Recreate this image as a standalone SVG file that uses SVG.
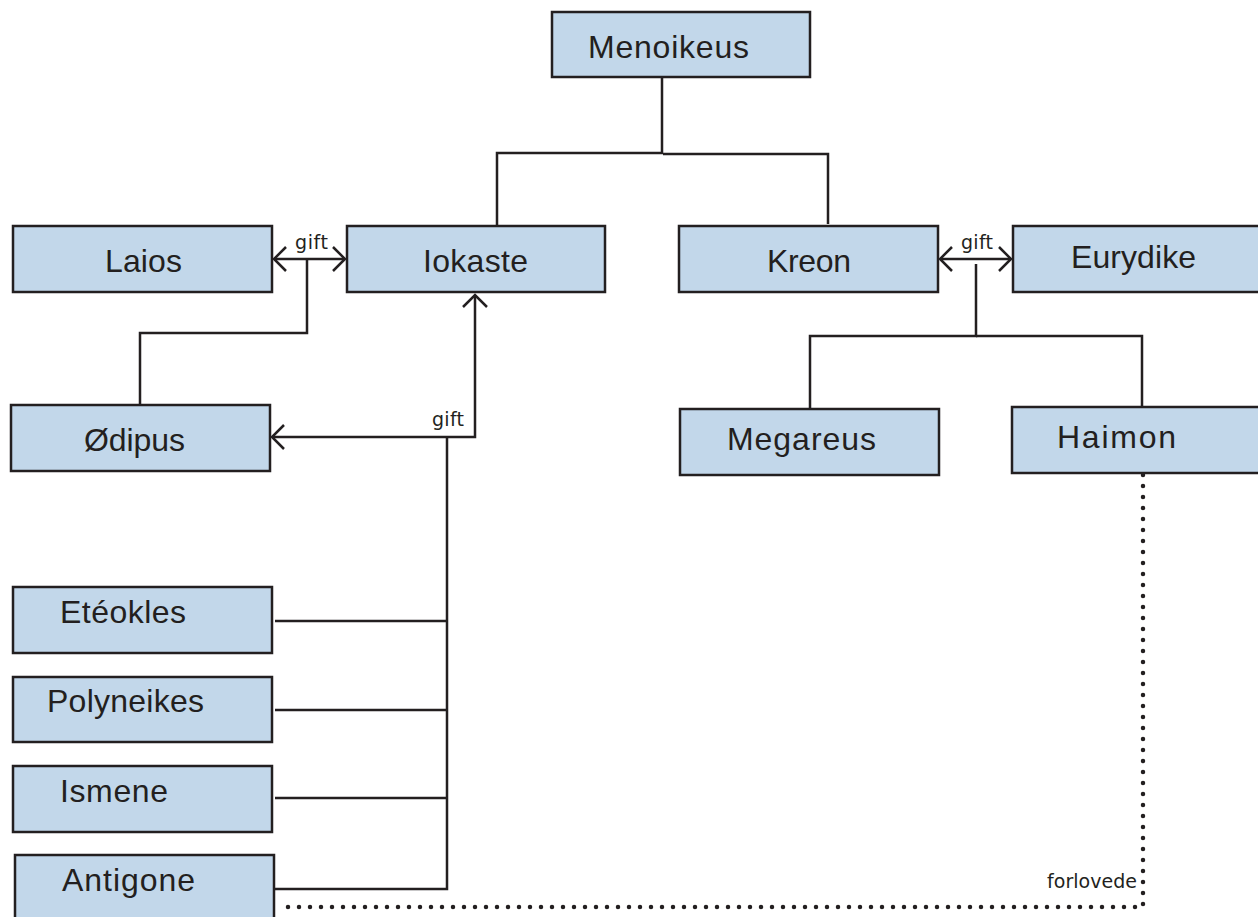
<svg xmlns="http://www.w3.org/2000/svg" width="1258" height="917" viewBox="0 0 1258 917">
<style>
.box{fill:#c2d7ea;stroke:#231f20;stroke-width:2.5}
.t{font-family:"Liberation Sans",Arial,sans-serif;font-size:32px;fill:#231f20}
.s{font-family:"DejaVu Sans","Liberation Sans",sans-serif;font-size:19px;fill:#231f20}
.ln{fill:none;stroke:#231f20;stroke-width:2.5}
.dot{fill:none;stroke:#231f20;stroke-width:4.5;stroke-linecap:round;stroke-dasharray:0 11}
</style>
<defs>
<marker id="ah" markerUnits="userSpaceOnUse" markerWidth="16" markerHeight="28" refX="13" refY="13" orient="auto-start-reverse" viewBox="0 0 16 28">
<path d="M1,1 L13,13 L1,25" fill="none" stroke="#231f20" stroke-width="2.5"/>
</marker>
</defs>
<g id="connectors">
<polyline class="ln" points="662,77 662,153 497,153 497,226"/>
<polyline class="ln" points="663,154 828,154 828,224"/>
<line class="ln" x1="274" y1="259" x2="345" y2="259" marker-start="url(#ah)" marker-end="url(#ah)"/>
<polyline class="ln" points="307,259 307,333 140,333 140,405"/>
<line class="ln" x1="940" y1="259" x2="1011" y2="259" marker-start="url(#ah)" marker-end="url(#ah)"/>
<polyline class="ln" points="976,264 976,336 810,336 810,409"/>
<polyline class="ln" points="976,336 1142,336 1142,407"/>
<polyline class="ln" points="272,437 475,437 475,295" marker-start="url(#ah)" marker-end="url(#ah)"/>
<polyline class="ln" points="447,437 447,889 275,889"/>
<line class="ln" x1="275" y1="621" x2="447" y2="621"/>
<line class="ln" x1="275" y1="710" x2="447" y2="710"/>
<line class="ln" x1="275" y1="798" x2="447" y2="798"/>
<polyline class="dot" points="1143,475 1143,907 278,907"/>
<text class="s" x="295" y="249" textLength="33">gift</text>
<text class="s" x="961" y="249" textLength="32">gift</text>
<text class="s" x="432" y="426" textLength="32">gift</text>
<text class="s" x="1047" y="888" textLength="90">forlovede</text>
</g>
<g id="menoikeus"><rect class="box" x="552" y="12" width="258" height="65"/><text class="t" x="588" y="58" textLength="161">Menoikeus</text></g>
<g id="laios"><rect class="box" x="13" y="226" width="259" height="66"/><text class="t" x="105" y="272" textLength="77">Laios</text></g>
<g id="iokaste"><rect class="box" x="347" y="226" width="258" height="66"/><text class="t" x="423" y="272" textLength="105">Iokaste</text></g>
<g id="kreon"><rect class="box" x="679" y="226" width="259" height="66"/><text class="t" x="767" y="272" textLength="84">Kreon</text></g>
<g id="eurydike"><rect class="box" x="1013" y="226" width="250" height="66"/><text class="t" x="1071" y="268" textLength="125">Eurydike</text></g>
<g id="odipus"><rect class="box" x="11" y="405" width="259" height="66"/><text class="t" x="84" y="451" textLength="101">Ødipus</text></g>
<g id="megareus"><rect class="box" x="680" y="409" width="259" height="66"/><text class="t" x="727" y="450" textLength="149">Megareus</text></g>
<g id="haimon"><rect class="box" x="1012" y="407" width="251" height="66"/><text class="t" x="1057" y="448" textLength="119">Haimon</text></g>
<g id="eteokles"><rect class="box" x="13" y="587" width="259" height="66"/><text class="t" x="60" y="623" textLength="126">Etéokles</text></g>
<g id="polyneikes"><rect class="box" x="13" y="677" width="259" height="65"/><text class="t" x="47" y="712" textLength="157">Polyneikes</text></g>
<g id="ismene"><rect class="box" x="13" y="766" width="259" height="66"/><text class="t" x="60" y="802" textLength="108">Ismene</text></g>
<g id="antigone"><rect class="box" x="15" y="855" width="259" height="70"/><text class="t" x="62" y="891" textLength="133">Antigone</text></g>
</svg>
